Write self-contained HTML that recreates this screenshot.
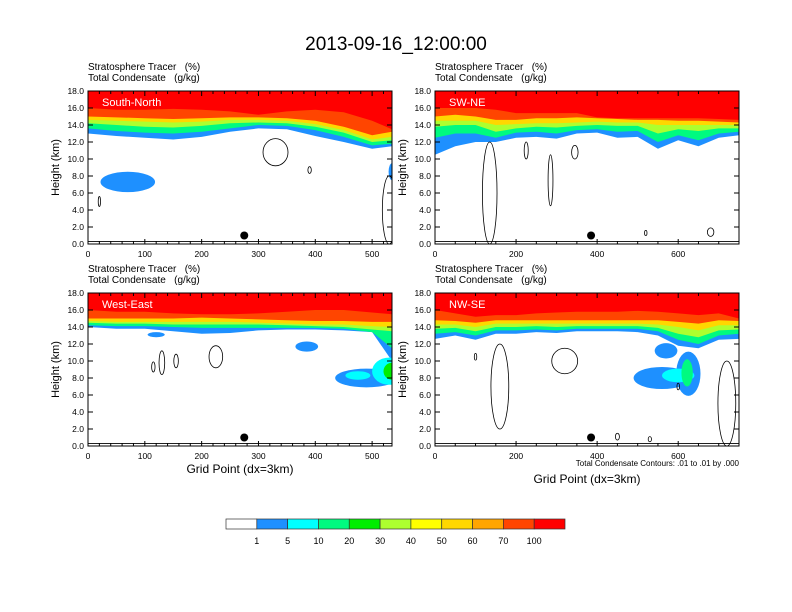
<!DOCTYPE html>
<html><head><meta charset="utf-8"><style>
body{margin:0;background:#fff;font-family:"Liberation Sans",sans-serif;}
svg{display:block}
text{white-space:pre}
</style></head><body>
<svg id="fig" width="792" height="612" viewBox="0 0 792 612" xmlns="http://www.w3.org/2000/svg" font-family="Liberation Sans, sans-serif">
<text x="396" y="50" font-size="19" text-anchor="middle">2013-09-16_12:00:00</text>
<g id="panels"></g>
<g id="cbar"></g>
</svg>
<script>
// ---- data ----
const levelLabels = ["1","5","10","20","30","40","50","60","70","100"];
const levelColors = ["#ffffff","#1e90ff","#00ffff","#00fa80","#00ee00","#adff2f","#ffff00","#ffd700","#ffa500","#ff4500","#ff0000"];
const bandColors = ["#1e90ff","#00fa80","#adff2f","#ffd700","#ff4500","#ff0000"];
const panelNames = ["South-North","SW-NE","West-East","NW-SE"];
const yTicks = [0,2,4,6,8,10,12,14,16,18];
const xsShort = [0,50,100,150,200,250,300,350,400,450,500,535];
const xsLong = [0,50,100,150,200,250,300,350,400,450,500,550,600,650,700,750];
const p1b1 = [13,12.7,12.5,12.3,12.6,13.2,13.6,13.5,12.7,12.0,11.2,11.5];
const p1b10 = [13.6,13.3,13.1,13.0,13.2,13.6,14.0,13.9,13.4,12.6,11.6,11.8];
const p1b30 = [14.2,14.0,13.8,13.7,13.9,14.2,14.3,14.2,13.8,13.1,12.0,12.2];
const p1b50 = [14.6,14.5,14.4,14.3,14.4,14.6,14.6,14.5,14.1,13.4,12.3,12.6];
const p1b70 = [15.0,14.9,14.8,14.7,14.8,14.9,14.9,14.8,14.5,13.8,12.8,13.2];
const p1b100 = [16.0,15.8,15.8,15.9,15.8,15.6,15.2,15.6,15.8,15.5,14.5,13.5];
const p2b1 = [10.5,11.5,12.0,12.0,12.5,12.6,12.4,13.0,13.1,12.5,12.6,11.2,12.2,11.5,12.5,12.8];
const p2b10 = [12.5,13,13.0,12.5,13.1,13.2,13.0,13.4,13.5,13.2,13.3,12.0,12.8,12.2,13.0,13.2];
const p2b30 = [13.8,14,14,13.2,13.6,13.8,13.7,13.9,14.0,13.9,13.9,13.0,13.5,13.3,13.6,13.6];
const p2b50 = [14.5,14.5,14.5,14.0,14.1,14.2,14.2,14.3,14.4,14.3,14.3,14.0,14.0,14.0,14.0,14.0];
const p2b70 = [15.0,15.2,15.0,14.6,14.6,14.8,14.8,14.9,14.8,14.7,14.6,14.6,14.5,14.5,14.4,14.3];
const p2b100 = [16.0,16.0,16.0,15.8,15.4,15.4,15.4,15.4,14.9,14.8,14.8,14.8,14.8,14.8,14.7,14.6];
const p3b1 = [14.0,13.8,13.8,13.5,13.2,13.3,13.6,13.7,13.7,13.6,13.4,10.0];
const p3b10 = [14.2,14.1,14.1,14.0,13.9,13.9,13.9,13.9,13.9,13.8,13.4,11.5];
const p3b30 = [14.5,14.4,14.4,14.3,14.3,14.3,14.3,14.2,14.1,14.0,13.7,13.5];
const p3b50 = [14.7,14.6,14.6,14.6,14.6,14.6,14.5,14.4,14.3,14.3,14.1,14.0];
const p3b70 = [15.0,15.0,15.0,15.0,15.1,15.0,14.9,14.8,14.7,14.7,14.6,14.6];
const p3b100 = [16.0,15.8,15.8,15.6,15.5,15.5,15.6,15.8,16.0,16.0,15.7,15.5];
const p4b1 = [12.6,13.0,12.5,13.2,13.2,13.4,13.3,13.5,13.5,13.5,13.4,13.0,11.8,11.5,12.5,12.6];
const p4b10 = [13.2,13.4,13.0,13.6,13.6,13.7,13.6,13.8,13.8,13.8,13.8,13.5,12.5,12.0,13.0,13.2];
const p4b30 = [13.8,13.9,13.5,14.0,14.0,14.1,14.0,14.1,14.1,14.1,14.1,13.9,13.2,12.8,13.6,13.7];
const p4b50 = [14.3,14.3,14.0,14.4,14.4,14.4,14.4,14.4,14.4,14.4,14.4,14.3,14.0,13.6,14.2,14.2];
const p4b70 = [14.8,14.7,14.5,14.8,14.8,14.8,14.8,14.8,14.8,14.8,14.8,14.8,14.6,14.4,14.8,14.7];
const p4b100 = [16.0,15.6,15.2,15.4,15.4,15.6,15.7,15.8,15.8,15.8,15.9,15.8,15.6,15.4,15.6,15.0];
// blobs: [x, z, rx(grid), rz(km), colorIndex in levelColors]
const p1Blobs = [[70,7.3,48,1.2,1],[535,8.5,6,1,1]];
const p2Blobs = [];
const p3Blobs = [[385,11.7,20,0.6,1],[120,13.1,15,0.3,1],[490,8.0,55,1.1,1],[475,8.3,22,0.5,2],[530,8.8,30,1.6,2],[535,8.8,15,1.0,4]];
const p4Blobs = [[570,11.2,28,0.9,1],[560,8.0,70,1.3,1],[625,8.5,30,2.6,1],[600,8.3,40,0.8,2],[622,8.6,14,1.6,3]];
// condensate contours: [x, z, rx, rz]
const p1Cont = [[330,10.8,22,1.6],[390,8.7,3,0.4],[20,5,2,0.6],[530,4,12,4]];
const p2Cont = [[285,7.5,6,3],[135,6,18,6],[225,11,5,1],[345,10.8,8,0.8],[520,1.3,3,0.3],[680,1.4,8,0.5]];
const p3Cont = [[115,9.3,3,0.6],[130,9.8,5,1.4],[155,10,4,0.8],[225,10.5,12,1.3]];
const p4Cont = [[160,7,22,5],[320,10,32,1.5],[600,7,3,0.4],[720,5,22,5],[100,10.5,3,0.4],[450,1.1,5,0.4],[530,0.8,4,0.3]];
const dotX = [275,385,275,385];
const panelXMax = [535,750,535,750];
const panelXTicks = [[0,100,200,300,400,500],[0,200,400,600],[0,100,200,300,400,500],[0,200,400,600]];
const panelPos = [[88,91],[435,91],[88,293],[435,293]];
const W = 304, H = 153;
const allBands = [[p1b1,p1b10,p1b30,p1b50,p1b70,p1b100],[p2b1,p2b10,p2b30,p2b50,p2b70,p2b100],[p3b1,p3b10,p3b30,p3b50,p3b70,p3b100],[p4b1,p4b10,p4b30,p4b50,p4b70,p4b100]];
const allXs = [xsShort,xsLong,xsShort,xsLong];
const allBlobs = [p1Blobs,p2Blobs,p3Blobs,p4Blobs];
const allCont = [p1Cont,p2Cont,p3Cont,p4Cont];
// ---- draw ----
const NS = "http://www.w3.org/2000/svg";
function mk(tag, attrs, parent){const e=document.createElementNS(NS,tag);for(const k in attrs)e.setAttribute(k,attrs[k]);parent.appendChild(e);return e;}
const root = document.getElementById('panels');
for (let p=0;p<4;p++){
  const [x0,y0]=panelPos[p];
  const xmax=panelXMax[p];
  const sx=v=>x0+v/xmax*W;
  const sy=v=>y0+H-v/18*H;
  const g=mk('g',{},root);
  
  
  const clipId='clip'+p;
  const cp=mk('clipPath',{id:clipId},g);
  mk('rect',{x:x0,y:y0,width:W,height:H},cp);
  const pg=mk('g',{'clip-path':'url(#'+clipId+')'},g);
  const xs=allXs[p];
  allBands[p].forEach((arr,i)=>{
    let d='M'+sx(xs[0])+','+sy(18);
    xs.forEach((xv,j)=>{d+=' L'+sx(xv)+','+sy(arr[j]);});
    d+=' L'+sx(xmax)+','+sy(arr[arr.length-1])+' L'+sx(xmax)+','+sy(18)+' Z';
    const path=mk('path',{d:d,fill:bandColors[i]},pg);
    
    
  });
  allBlobs[p].forEach(b=>{
    const e=mk('ellipse',{cx:sx(b[0]),cy:sy(b[1]),rx:b[2]/xmax*W,ry:b[3]/18*H,fill:levelColors[b[4]]},pg);
    
    
  });
  allCont[p].forEach(c=>{
    const e=mk('ellipse',{cx:sx(c[0]),cy:sy(c[1]),rx:c[2]/xmax*W,ry:c[3]/18*H,fill:'none',stroke:'#000','stroke-width':0.8},pg);
    
    
  });
  const terr=mk('line',{x1:x0,x2:x0+W,y1:sy(0.3),y2:sy(0.3),stroke:'#000','stroke-width':0.8},pg);
  
  
  const dot=mk('circle',{cx:sx(dotX[p]),cy:sy(1),r:4,fill:'#000'},pg);
  
  
  const lab=mk('text',{x:x0+14,y:y0+15,fill:'#fff','font-size':11},g);
  lab.textContent=panelNames[p];
  
  
  const fr=mk('rect',{x:x0,y:y0,width:W,height:H,fill:'none',stroke:'#000','stroke-width':1},g);
  
  
  yTicks.forEach(t=>{
    const y=sy(t);
    mk('line',{x1:x0,x2:x0+5,y1:y,y2:y,stroke:'#000'},g);
    mk('line',{x1:x0+W,x2:x0+W-5,y1:y,y2:y,stroke:'#000'},g);
    const tt=mk('text',{x:x0-4,y:y+3,'font-size':8.5,'text-anchor':'end'},g);
    tt.textContent=t.toFixed(1);
    
    
  });
  const step = xmax>600?50:20;
  for(let v=0;v<=xmax;v+=step){
    const x=sx(v);const major=panelXTicks[p].includes(v);
    mk('line',{x1:x,x2:x,y1:y0+H,y2:y0+H-(major?5:3),stroke:'#000'},g);
    mk('line',{x1:x,x2:x,y1:y0,y2:y0+(major?5:3),stroke:'#000'},g);
  }
  panelXTicks[p].forEach(t=>{
    const tt=mk('text',{x:sx(t),y:y0+H+13,'font-size':8.5,'text-anchor':'middle'},g);
    tt.textContent=t;
    
    
  });
  const yt=mk('text',{x:0,y:0,'font-size':11,'text-anchor':'middle',transform:'translate('+(x0-29)+','+(y0+H/2)+') rotate(-90)'},g);
  yt.textContent='Height (km)';
  
  
  const t1=mk('text',{x:x0,y:y0-21,'font-size':10},g);
  t1.textContent='Stratosphere Tracer   (%)';
  
  
  const t2=mk('text',{x:x0,y:y0-10,'font-size':10},g);
  t2.textContent='Total Condensate   (g/kg)';
  
  
  if(p>=2){
    const xt=mk('text',{x:x0+W/2,y:p==2?y0+H+27:y0+H+37,'font-size':12,'text-anchor':'middle'},g);
    xt.textContent='Grid Point (dx=3km)';
    
    
  }
  if(p==3){
    const ci=mk('text',{x:x0+W,y:y0+H+20,'font-size':8,'text-anchor':'end'},g);
    ci.textContent='Total Condensate Contours: .01 to .01 by .000';
    
    
  }
}
// colorbar
const cb=document.getElementById('cbar');
const cbX=226, cbY=519, bw=(565-226)/levelColors.length, bh=10;
levelColors.forEach((c,i)=>{
  const r=mk('rect',{x:cbX+i*bw,y:cbY,width:bw,height:bh,fill:c,stroke:'#333','stroke-width':0.7},cb);
  
  
});
levelLabels.forEach((l,i)=>{
  const t=mk('text',{x:cbX+(i+1)*bw,y:544,'font-size':9,'text-anchor':'middle'},cb);
  t.textContent=l;
  
  
});
</script>
</body></html>
